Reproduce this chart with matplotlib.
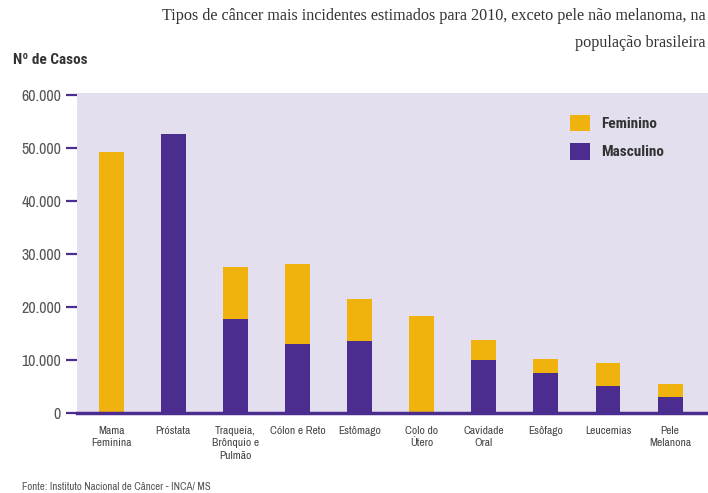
import numpy as np
import matplotlib
matplotlib.use("Agg")
import matplotlib.pyplot as plt
from matplotlib.patches import Patch

# Dados (leitura aproximada do grafico)
categorias = ['Mama\nFeminina', 'Próstata', 'Traqueia,\nBrônquio e\nPulmão', 'Cólon e Reto',
              'Estômago', 'Colo do\nÚtero', 'Cavidade\nOral', 'Esôfago', 'Leucemias',
              'Pele\nMelanona']
masculino = [0, 52600, 17750, 13050, 13600, 0, 10000, 7550, 5100, 3000]
feminino = [49250, 0, 9850, 15050, 7850, 18370, 3850, 2700, 4350, 2550]
yticks = [0, 10000, 20000, 30000, 40000, 50000, 60000]
ytick_labels = ['0', '10.000', '20.000', '30.000', '40.000', '50.000', '60.000']

amarelo = '#F0B30E'
roxo = '#4A2D8F'
fundo = '#E3DFEF'
narrow = ['Archivo Narrow', 'DejaVu Sans']
narrow_bold = ['Roboto Condensed', 'PT Sans Narrow', 'DejaVu Sans']

fig = plt.figure(figsize=(7.08, 4.93), dpi=100)
ax = fig.add_axes([77 / 708, 1 - 413 / 493, 1 - 77 / 708, 320 / 493])
ax.set_facecolor(fundo)

x = np.arange(len(categorias))
ax.bar(x, masculino, width=0.4, color=roxo, zorder=2)
ax.bar(x, feminino, width=0.4, bottom=masculino, color=amarelo, zorder=2)

ax.set_xlim(-0.55, 9.61)
ax.set_ylim(0, 60000 * 320 / 318)
ax.axhline(0, color=roxo, lw=2.5, zorder=3, clip_on=False)

for s in ax.spines.values():
    s.set_visible(False)

ax.set_yticks(yticks)
ax.set_yticklabels(ytick_labels, family=narrow, fontsize=11.5, color='#555555')
ax.tick_params(axis='y', length=8, width=1.6, color=roxo, pad=3.5)
ax.set_xticks(x)
ax.set_xticklabels(categorias, family=narrow, fontsize=8.3, color='#444444', linespacing=1.35)
ax.tick_params(axis='x', length=0, pad=9)

leg = ax.legend(handles=[Patch(facecolor=amarelo, label='Feminino'),
                         Patch(facecolor=roxo, label='Masculino')],
                loc='upper left', bbox_to_anchor=(0.76, 0.975), frameon=False,
                handlelength=1.3, handleheight=1.3, handletextpad=0.7, labelspacing=0.75,
                prop={'family': narrow_bold, 'weight': 'bold', 'size': 11})
for t in leg.get_texts():
    t.set_color('#333333')

fig.text(0.997, 1 - 20 / 493, 'Tipos de câncer mais incidentes estimados para 2010, exceto pele não melanoma, na',
         ha='right', va='baseline', family='Liberation Serif', fontsize=11.6, color='#333333')
fig.text(0.997, 1 - 47 / 493, 'população brasileira',
         ha='right', va='baseline', family='Liberation Serif', fontsize=11.6, color='#333333')
fig.text(13 / 708, 1 - 60 / 493, 'Nº de Casos', ha='left', va='center', family=narrow_bold,
         fontsize=11, fontweight='bold', color='#333333')
fig.text(22 / 708, 1 - 486 / 493, 'Fonte: Instituto Nacional de Câncer - INCA/ MS', ha='left',
         va='center', family=narrow, fontsize=7.8, color='#555555')

fig.savefig('out.png', dpi=100)
